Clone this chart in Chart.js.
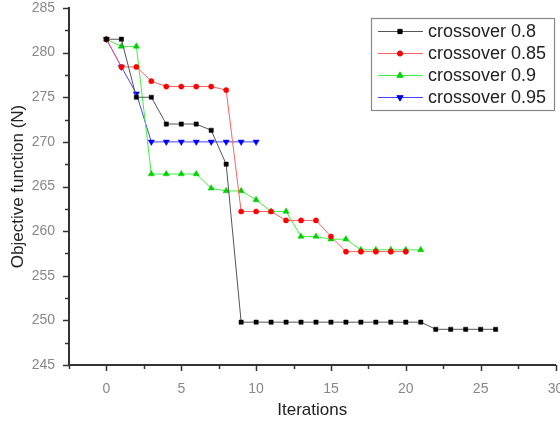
<!DOCTYPE html>
<html><head><meta charset="utf-8">
<script src="https://cdn.jsdelivr.net/npm/chart.js@4/dist/chart.umd.min.js"></script>
<style>html,body{margin:0;padding:0;background:#fff;overflow:hidden}#wrap{position:relative;width:560px;height:424px}</style>
</head><body><div id="wrap"><canvas id="c"></canvas></div>
<script>
const seriesNames = ['crossover 0.8', 'crossover 0.85', 'crossover 0.9', 'crossover 0.95'];
const cross080 = [281.5,281.5,275.0,275.0,272.0,272.0,272.0,271.3,267.5,249.8,249.8,249.8,249.8,249.8,249.8,249.8,249.8,249.8,249.8,249.8,249.8,249.8,249.0,249.0,249.0,249.0,249.0];
const cross085 = [281.5,278.4,278.4,276.8,276.2,276.2,276.2,276.2,275.8,262.2,262.2,262.2,261.2,261.2,261.2,259.4,257.7,257.7,257.7,257.7,257.7];
const cross090 = [281.5,280.7,280.7,266.4,266.4,266.4,266.4,264.8,264.5,264.5,263.5,262.2,262.2,259.4,259.4,259.1,259.1,257.9,257.9,257.9,257.9,257.9];
const cross095 = [281.5,278.4,275.4,270.0,270.0,270.0,270.0,270.0,270.0,270.0,270.0];
const xTickLabels = [0, 5, 10, 15, 20, 25, 30];
const yTickLabels = [245, 250, 255, 260, 265, 270, 275, 280, 285];

const FONT = "'Liberation Sans', Arial, sans-serif";
const toPts = arr => arr.map((v, i) => ({x: i, y: v}));

const styles = [
  {line: '#555555', pt: '#000000', style: 'rect', r: 3, rot: 0},
  {line: '#ff6060', pt: '#ff0000', style: 'circle', r: 2.6, rot: 0},
  {line: '#40f040', pt: '#00d000', style: 'triangle', r: 3.6, rot: 0},
  {line: '#4545ff', pt: '#0000ff', style: 'triangle', r: 3.6, rot: 180}
];
const allData = [cross080, cross085, cross090, cross095];

const datasets = allData.map((d, i) => ({
  label: seriesNames[i],
  data: toPts(d),
  borderColor: styles[i].line,
  backgroundColor: styles[i].pt,
  borderWidth: 1,
  pointStyle: styles[i].style,
  pointRotation: styles[i].rot,
  pointRadius: styles[i].r,
  pointBackgroundColor: styles[i].pt,
  pointBorderColor: styles[i].pt,
  pointBorderWidth: 0.5,
  tension: 0,
  fill: false
}));

const tickPlugin = {
  id: 'ticks',
  afterDraw(chart) {
    const ctx = chart.ctx;
    const xs = chart.scales.x, ys = chart.scales.y;
    const area = chart.chartArea;
    ctx.save();
    ctx.strokeStyle = '#333';
    ctx.lineWidth = 1.5;
    for (let v = xs.min; v <= xs.max + 0.001; v += 2.5) {
      const px = Math.round(xs.getPixelForValue(v)) + 0.5;
      const major = Math.abs(v % 5) < 0.001;
      ctx.beginPath();
      ctx.moveTo(px, area.bottom);
      ctx.lineTo(px, area.bottom + (major ? 6 : 4));
      ctx.stroke();
    }
    for (let v = ys.min; v <= ys.max + 0.001; v += 2.5) {
      const py = Math.round(ys.getPixelForValue(v)) + 0.5;
      const major = Math.abs(v % 5) < 0.001;
      ctx.beginPath();
      ctx.moveTo(area.left, py);
      ctx.lineTo(area.left - (major ? 6 : 4), py);
      ctx.stroke();
    }
    ctx.restore();
  }
};

const legendPlugin = {
  id: 'boxLegend',
  afterDraw(chart) {
    const ctx = chart.ctx;
    const bx = 371, by = 18, bw = 183, bh = 92;
    ctx.save();
    ctx.fillStyle = '#fff';
    ctx.fillRect(bx, by, bw, bh);
    ctx.strokeStyle = '#888';
    ctx.lineWidth = 1.2;
    ctx.strokeRect(bx + 0.5, by + 0.5, bw, bh);
    ctx.font = '18px ' + FONT;
    ctx.textBaseline = 'middle';
    ctx.textAlign = 'left';
    seriesNames.forEach((name, i) => {
      const y = by + 13 + i * 22;
      const s = styles[i];
      ctx.strokeStyle = s.line;
      ctx.lineWidth = 1;
      ctx.beginPath();
      ctx.moveTo(378, y + 0.5);
      ctx.lineTo(423, y + 0.5);
      ctx.stroke();
      ctx.fillStyle = s.pt;
      ctx.strokeStyle = s.pt;
      Chart.helpers.drawPoint(ctx, {pointStyle: s.style, radius: s.r, rotation: s.rot, borderWidth: 0.5}, 400, y + 0.5);
      ctx.fillStyle = '#222';
      ctx.fillText(name, 428, y + 1);
    });
    ctx.restore();
  }
};

new Chart(document.getElementById('c'), {
  type: 'line',
  data: {datasets},
  plugins: [tickPlugin, legendPlugin],
  options: {
    responsive: true,
    maintainAspectRatio: false,
    animation: false,
    layout: {padding: {left: 0, top: 8, right: 3, bottom: 0}},
    plugins: {legend: {display: false}, tooltip: {enabled: false}},
    scales: {
      x: {
        type: 'linear',
        min: -2.5, max: 30,
        grid: {display: false},
        border: {display: true, color: '#333', width: 2},
        afterBuildTicks(scale) {
          scale.ticks = xTickLabels.map(v => ({value: v}));
        },
        afterFit(scale) {
          scale.height = 59;
          scale.paddingLeft = 0; scale.paddingRight = 0;
        },
        ticks: {
          color: '#888', padding: 8, maxRotation: 0, autoSkip: false,
          font: {family: FONT, size: 14}
        },
        title: {
          display: true, text: 'Iterations', color: '#222',
          font: {family: FONT, size: 17}, padding: {top: 4, bottom: 3}
        }
      },
      y: {
        min: 245, max: 285,
        grid: {display: false},
        border: {display: true, color: '#333', width: 2},
        afterBuildTicks(scale) {
          scale.ticks = yTickLabels.map(v => ({value: v}));
        },
        afterFit(scale) {
          scale.width = 69;
          scale.paddingTop = 0; scale.paddingBottom = 0;
        },
        ticks: {
          color: '#888', padding: 6, autoSkip: false,
          font: {family: FONT, size: 14}
        },
        title: {
          display: true, text: 'Objective function (N)', color: '#222',
          font: {family: FONT, size: 17}, padding: {top: 8, bottom: 4}
        }
      }
    }
  }
});
</script>
</body></html>
